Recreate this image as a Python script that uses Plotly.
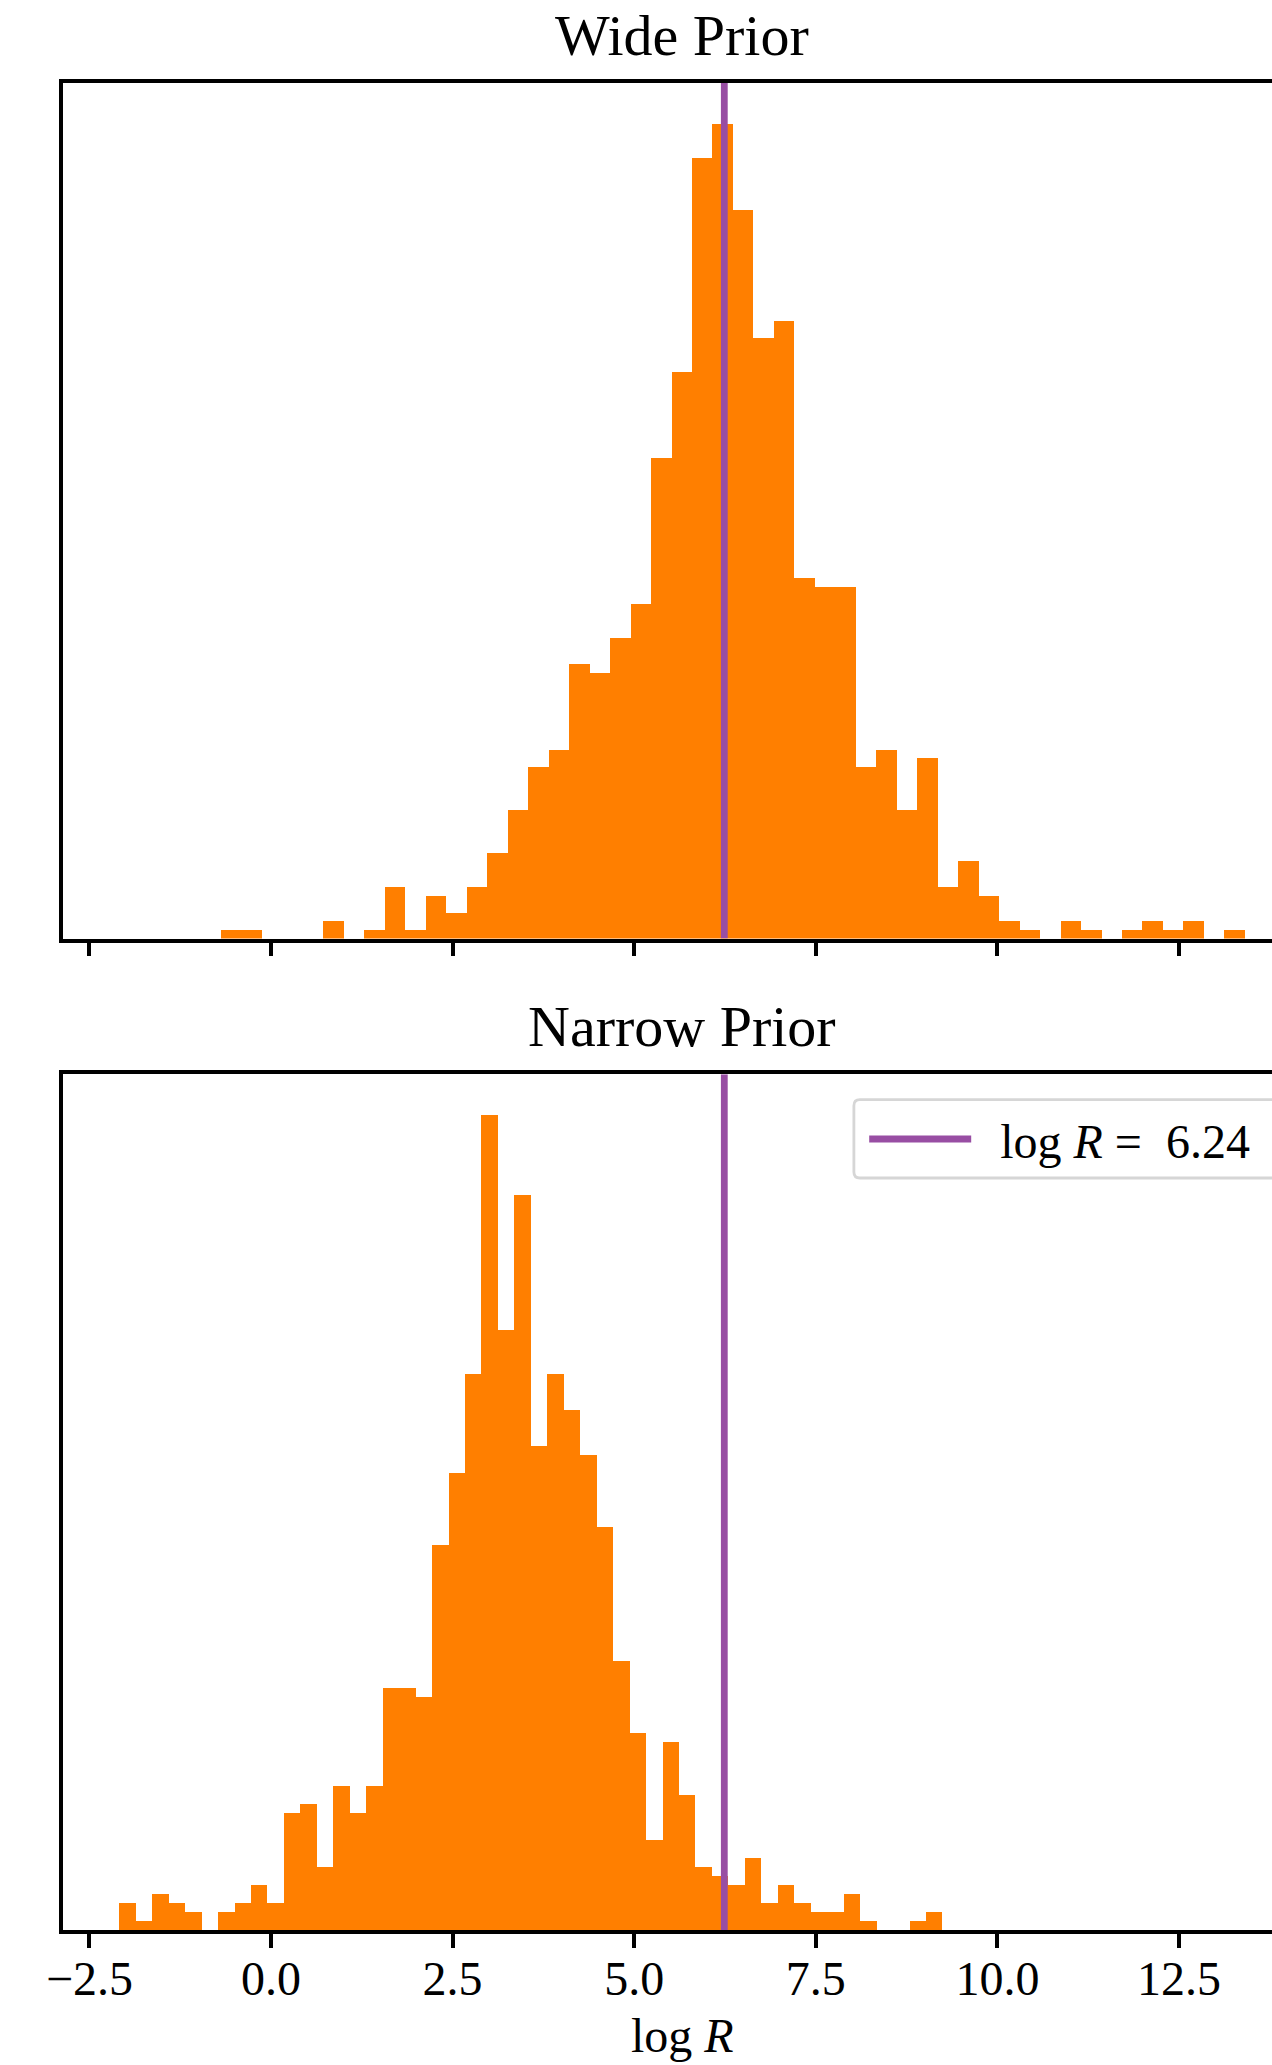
import plotly.graph_objects as go

# Posterior samples of log R binned into 50 equal-width bins (1000 samples per run)
wide_counts = [1, 1, 0, 0, 0, 2, 0, 1, 6, 1, 5, 3, 6, 10, 15, 20, 22, 32, 31, 35,
               39, 56, 66, 91, 95, 85, 70, 72, 42, 41, 41, 20, 22, 15, 21, 6, 9, 5, 2, 1,
               0, 2, 1, 0, 1, 2, 1, 2, 0, 1]
wide_range = [-0.688, 13.406]

narrow_counts = [3, 1, 4, 3, 2, 0, 2, 3, 5, 3, 13, 14, 7, 16, 13, 16, 27, 27, 26, 43,
                 51, 62, 91, 67, 82, 54, 62, 58, 53, 45, 30, 22, 10, 21, 15, 7, 6, 5, 8, 3,
                 5, 3, 2, 2, 4, 1, 0, 0, 1, 2]
narrow_range = [-2.089, 9.243]

true_log_r = 6.24
x_ticks = [-2.5, 0.0, 2.5, 5.0, 7.5, 10.0, 12.5]
panel_titles = ["Wide Prior", "Narrow Prior"]

ORANGE = "#ff7f00"
PURPLE = "#984ea3"
FONT = "Liberation Serif"
NB = "\u00a0"

W, H = 1272, 2065
M_L, M_T, M_B = 63.3, 83, 135


def density(counts, rng):
    n = len(counts)
    width = (rng[1] - rng[0]) / n
    total = sum(counts)
    centers = [rng[0] + (i + 0.5) * width for i in range(n)]
    heights = [c / (total * width) for c in counts]
    return centers, heights, width


def paper_x(px):
    return (px - M_L) / (W - M_L)


def paper_y(py):
    return 1 - (py - M_T) / (H - M_T - M_B)


# shared x limits: data span plus 5% padding on each side
data_lo = min(wide_range[0], narrow_range[0])
data_hi = max(wide_range[1], narrow_range[1])
span = data_hi - data_lo
x_lo = data_lo - 0.05 * span
x_view_hi = 13.78          # view ends at the right edge of the page
x_center = (data_lo + data_hi) / 2

fig = go.Figure()

panels = [(wide_counts, wide_range, "x", "y"), (narrow_counts, narrow_range, "x2", "y2")]
y_tops = []
for k, (counts, rng, xa, ya) in enumerate(panels):
    centers, heights, width = density(counts, rng)
    y_top = 1.05 * max(heights)
    y_tops.append(y_top)
    fig.add_trace(go.Bar(
        x=centers, y=heights, width=width,
        marker=dict(color=ORANGE, line=dict(width=0)),
        xaxis=xa, yaxis=ya, showlegend=False, hoverinfo="skip",
    ))
    fig.add_trace(go.Scatter(
        x=[true_log_r, true_log_r], y=[0, y_top], mode="lines",
        line=dict(color=PURPLE, width=6.8),
        name=f"{NB}{NB}log <i>R</i>{NB}={NB}{NB}{true_log_r:.2f}",
        xaxis=xa, yaxis=ya, showlegend=(k == 1),
    ))

axis_common = dict(
    showline=True, linecolor="black", linewidth=3.5,
    showgrid=False, zeroline=False,
)
x_common = dict(
    axis_common, range=[x_lo, x_view_hi], tickvals=x_ticks, tickformat=".1f",
    ticks="outside", ticklen=14, tickwidth=3.5, tickcolor="black",
    mirror=True, domain=[0, 1],
)
y_common = dict(axis_common, ticks="", showticklabels=False)

fig.update_layout(
    width=W, height=H,
    margin=dict(l=M_L, r=0, t=M_T, b=M_B, autoexpand=False),
    plot_bgcolor="white", paper_bgcolor="white",
    bargap=0, barmode="overlay",
    font=dict(family=FONT, size=48, color="black"),
    xaxis=dict(x_common, anchor="y", showticklabels=False, matches="x2"),
    xaxis2=dict(x_common, anchor="y2", showticklabels=True, ticklabelstandoff=-10,
                tickfont=dict(family=FONT, size=48, color="black")),
    yaxis=dict(y_common, anchor="x", domain=[0.5368, 1.0], range=[0, y_tops[0]]),
    yaxis2=dict(y_common, anchor="x2", domain=[0.0, 0.4633], range=[0, y_tops[1]]),
    legend=dict(
        x=paper_x(864.3), y=paper_y(1101.3), xanchor="left", yanchor="top",
        bgcolor="rgba(0,0,0,0)", borderwidth=0,
        font=dict(family=FONT, size=48, color="black"),
        itemwidth=102,
    ),
    showlegend=True,
)

# rounded legend frame, open past the right edge of the page
fx0, fx1 = paper_x(854), paper_x(1300)
fyt, fyb = paper_y(1099.7), paper_y(1178)
rx, ry = 6 / (W - M_L), 6 / (H - M_T - M_B)
frame = (f"M {fx1},{fyt} L {fx0 + rx},{fyt} Q {fx0},{fyt} {fx0},{fyt - ry} "
         f"L {fx0},{fyb + ry} Q {fx0},{fyb} {fx0 + rx},{fyb} L {fx1},{fyb} Z")
fig.add_shape(type="path", path=frame, xref="paper", yref="paper",
              line=dict(color="#d6d6d6", width=2.8), fillcolor="white", layer="above")

for title, xa, ya in [(panel_titles[0], "x", "y domain"), (panel_titles[1], "x2", "y2 domain")]:
    fig.add_annotation(
        text=title, x=x_center, xref=xa, y=1, yref=ya,
        xanchor="center", yanchor="bottom", yshift=13, showarrow=False,
        font=dict(family=FONT, size=58, color="black"),
    )

fig.add_annotation(
    text="log <i>R</i>", x=x_center, xref="x2", y=0, yref="y2 domain",
    xanchor="center", yanchor="top", yshift=-77, showarrow=False,
    font=dict(family=FONT, size=48, color="black"),
)

fig.write_html("out.html")
